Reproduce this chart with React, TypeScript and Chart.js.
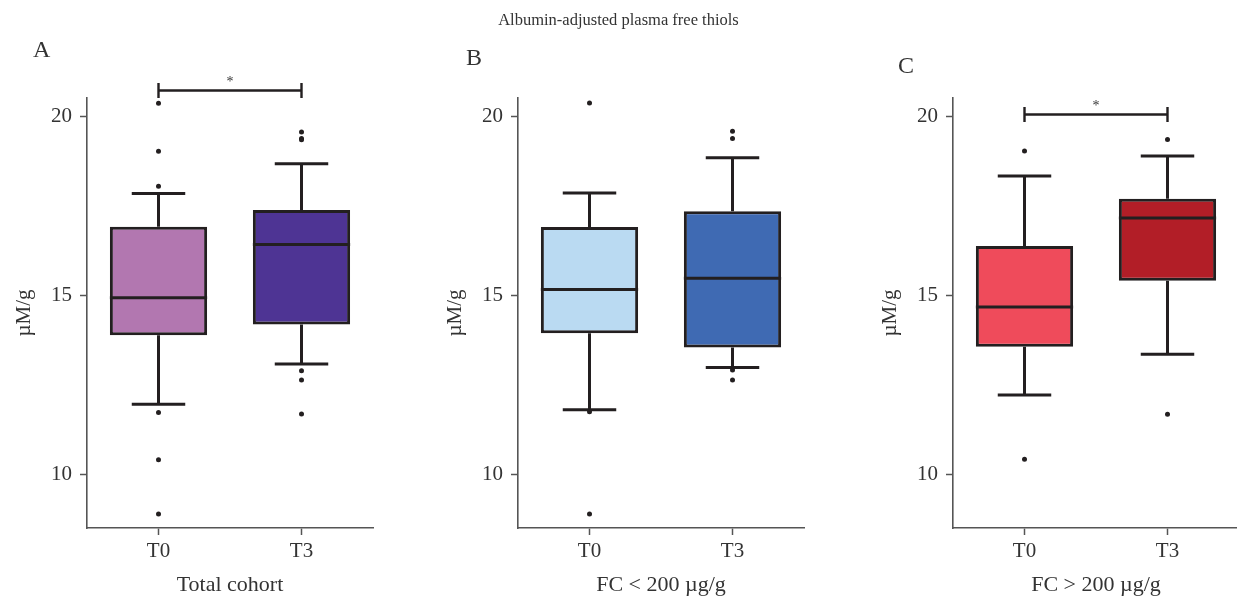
import React, { useEffect, useRef } from 'react';
import { Chart, registerables } from 'chart.js';

Chart.register(...registerables);

// ---------- data ----------
const categories = ['T0', 'T3'];
const yTicks = [10, 15, 20];

// Panel A – Total cohort
const totalMin = [11.96, 13.09];
const totalQ1 = [13.89, 14.19];
const totalMedian = [14.94, 16.43];
const totalQ3 = [16.93, 17.4];
const totalMax = [17.86, 18.69];
const totalOutliersT0 = [20.38, 19.04, 18.06, 11.73, 10.41, 8.89];
const totalOutliersT3 = [19.58, 19.4, 19.36, 12.9, 12.64, 11.69];

// Panel B – FC < 200 µg/g
const lowMin = [11.81, 12.99];
const lowQ1 = [13.95, 13.55];
const lowMedian = [15.17, 15.49];
const lowQ3 = [16.92, 17.36];
const lowMax = [17.87, 18.86];
const lowOutliersT0 = [20.39, 11.75, 8.89];
const lowOutliersT3 = [19.6, 19.4, 12.92, 12.64];

// Panel C – FC > 200 µg/g
const highMin = [12.22, 13.36];
const highQ1 = [13.57, 15.42];
const highMedian = [14.68, 17.17];
const highQ3 = [16.39, 17.71];
const highMax = [18.35, 18.91];
const highOutliersT0 = [19.05, 10.42];
const highOutliersT3 = [19.37, 11.68];

// significance brackets (value on y scale)
const totalBracketY = 20.74;
const highBracketY = 20.07;

// ---------- styles ----------
const INK = '#231f20';
const TEXT = '#333333';
const AXIS = '#555555';
const FONT = "'Liberation Serif', 'Times New Roman', serif";

type PanelDef = {
  letter: string;
  xTitle: string;
  colors: string[];
  min: number[];
  q1: number[];
  median: number[];
  q3: number[];
  max: number[];
  outliers: number[][];
  bracketY: number | null;
  canvasLeft: number;
  letterPos: { left: number; top: number };
};

const panels: PanelDef[] = [
  {
    letter: 'A',
    xTitle: 'Total cohort',
    colors: ['#b277b0', '#4e3494'],
    min: totalMin,
    q1: totalQ1,
    median: totalMedian,
    q3: totalQ3,
    max: totalMax,
    outliers: [totalOutliersT0, totalOutliersT3],
    bracketY: totalBracketY,
    canvasLeft: 0,
    letterPos: { left: 33, top: 37 },
  },
  {
    letter: 'B',
    xTitle: 'FC < 200 µg/g',
    colors: ['#badaf2', '#3f6ab3'],
    min: lowMin,
    q1: lowQ1,
    median: lowMedian,
    q3: lowQ3,
    max: lowMax,
    outliers: [lowOutliersT0, lowOutliersT3],
    bracketY: null,
    canvasLeft: 431,
    letterPos: { left: 466, top: 45 },
  },
  {
    letter: 'C',
    xTitle: 'FC > 200 µg/g',
    colors: ['#ef4b5b', '#b21e27'],
    min: highMin,
    q1: highQ1,
    median: highMedian,
    q3: highQ3,
    max: highMax,
    outliers: [highOutliersT0, highOutliersT3],
    bracketY: highBracketY,
    canvasLeft: 866,
    letterPos: { left: 898, top: 53 },
  },
];

const CANVAS_W = 380;
const CANVAS_H = 602;

function Panel({ p }: { p: PanelDef }) {
  const ref = useRef<HTMLCanvasElement>(null);

  useEffect(() => {
    if (!ref.current) return;
    const lw = 3;
    const capRatio = 0.55;

    const boxPlugin = {
      id: 'boxWhisker',
      beforeDatasetsDraw(chart: any) {
        const { ctx } = chart;
        const x = chart.scales.x;
        const y = chart.scales.y;
        const bars = chart.getDatasetMeta(0).data;
        ctx.save();
        ctx.strokeStyle = INK;
        ctx.lineWidth = lw;
        ctx.lineCap = 'butt';
        categories.forEach((_, i) => {
          const cx = x.getPixelForValue(i);
          const half = (bars[i].width / 2) * capRatio;
          const yMax = y.getPixelForValue(p.max[i]);
          const yMin = y.getPixelForValue(p.min[i]);
          ctx.beginPath();
          ctx.moveTo(cx, y.getPixelForValue(p.q3[i]));
          ctx.lineTo(cx, yMax);
          ctx.moveTo(cx, y.getPixelForValue(p.q1[i]));
          ctx.lineTo(cx, yMin);
          ctx.moveTo(cx - half, yMax);
          ctx.lineTo(cx + half, yMax);
          ctx.moveTo(cx - half, yMin);
          ctx.lineTo(cx + half, yMin);
          ctx.stroke();
        });
        ctx.restore();
      },
      afterDatasetsDraw(chart: any) {
        const { ctx } = chart;
        const y = chart.scales.y;
        const bars = chart.getDatasetMeta(0).data;
        ctx.save();
        ctx.strokeStyle = INK;
        ctx.lineWidth = lw;
        categories.forEach((_, i) => {
          const b = bars[i];
          const ym = y.getPixelForValue(p.median[i]);
          ctx.beginPath();
          ctx.moveTo(b.x - b.width / 2, ym);
          ctx.lineTo(b.x + b.width / 2, ym);
          ctx.stroke();
        });
        ctx.restore();
      },
      afterDraw(chart: any) {
        if (p.bracketY === null) return;
        const { ctx } = chart;
        const x = chart.scales.x;
        const y = chart.scales.y;
        const yb = y.getPixelForValue(p.bracketY);
        const x0 = x.getPixelForValue(0);
        const x1 = x.getPixelForValue(1);
        const t = 7.5;
        ctx.save();
        ctx.strokeStyle = INK;
        ctx.lineWidth = 2.4;
        ctx.beginPath();
        ctx.moveTo(x0, yb);
        ctx.lineTo(x1, yb);
        ctx.moveTo(x0, yb - t);
        ctx.lineTo(x0, yb + t);
        ctx.moveTo(x1, yb - t);
        ctx.lineTo(x1, yb + t);
        ctx.stroke();
        ctx.fillStyle = TEXT;
        ctx.font = `14px ${FONT}`;
        ctx.textAlign = 'center';
        ctx.textBaseline = 'middle';
        ctx.fillText('*', (x0 + x1) / 2, yb - 8);
        ctx.restore();
      },
    };

    const outlierData = p.outliers.flatMap((arr, i) => arr.map((v) => ({ x: i, y: v })));

    const chart = new Chart(ref.current, {
      type: 'bar',
      data: {
        datasets: [
          {
            type: 'bar',
            data: categories.map((_, i) => ({ x: i, y: [p.q1[i], p.q3[i]] })) as any,
            backgroundColor: p.colors,
            borderColor: INK,
            borderWidth: lw,
            borderSkipped: false,
            categoryPercentage: 1,
            barPercentage: 0.68,
          } as any,
          {
            type: 'scatter',
            data: outlierData,
            backgroundColor: INK,
            borderWidth: 0,
            pointRadius: 2.5,
            pointHoverRadius: 2.5,
          } as any,
        ],
      },
      options: {
        animation: false,
        responsive: false,
        maintainAspectRatio: false,
        events: [],
        layout: { padding: { top: 98, right: 7, bottom: 0, left: 0 } },
        plugins: {
          legend: { display: false },
          tooltip: { enabled: false },
          title: { display: false },
        },
        scales: {
          x: {
            type: 'linear',
            min: -0.5,
            max: 1.5,
            offset: false,
            afterBuildTicks: (scale: any) => {
              scale.ticks = categories.map((_, i) => ({ value: i }));
            },
            afterFit: (scale: any) => {
              scale.height = 74;
            },
            ticks: {
              autoSkip: false,
              maxRotation: 0,
              padding: 4,
              color: TEXT,
              font: { family: FONT, size: 21 },
              callback: (v: any) => categories[v] ?? '',
            },
            grid: {
              display: true,
              drawOnChartArea: false,
              drawTicks: true,
              tickLength: 7,
              tickWidth: 1.5,
              color: AXIS,
              offset: false,
            },
            border: { display: true, color: AXIS, width: 1.6 },
            title: {
              display: true,
              text: p.xTitle,
              color: TEXT,
              font: { family: FONT, size: 22 },
              padding: { top: 0, bottom: 4 },
            },
          },
          y: {
            type: 'linear',
            min: 8.5,
            max: 20.53,
            afterBuildTicks: (scale: any) => {
              scale.ticks = yTicks.map((v) => ({ value: v }));
            },
            afterFit: (scale: any) => {
              scale.width = 87;
            },
            ticks: {
              padding: 8,
              color: TEXT,
              font: { family: FONT, size: 21 },
              callback: (v: any) => String(v),
            },
            grid: {
              display: true,
              drawOnChartArea: false,
              drawTicks: true,
              tickLength: 7,
              tickWidth: 1.5,
              color: AXIS,
            },
            border: { display: true, color: AXIS, width: 1.6 },
            title: {
              display: true,
              text: 'µM/g',
              color: TEXT,
              font: { family: FONT, size: 21 },
              padding: { top: 12, bottom: 0 },
            },
          },
        },
      } as any,
      plugins: [boxPlugin],
    });

    return () => chart.destroy();
  }, [p]);

  return (
    <canvas
      ref={ref}
      width={CANVAS_W}
      height={CANVAS_H}
      style={{ position: 'absolute', left: p.canvasLeft, top: 0, width: CANVAS_W, height: CANVAS_H }}
    />
  );
}

export default function App() {
  return (
    <div
      style={{
        position: 'absolute',
        left: 0,
        top: 0,
        width: 1237,
        height: 602,
        overflow: 'hidden',
        background: '#ffffff',
        fontFamily: FONT,
        color: TEXT,
      }}
    >
      {panels.map((p) => (
        <Panel key={p.letter} p={p} />
      ))}
      <div
        style={{
          position: 'absolute',
          left: 0,
          width: 1237,
          top: 10,
          textAlign: 'center',
          fontSize: 16.5,
          lineHeight: '20px',
        }}
      >
        Albumin-adjusted plasma free thiols
      </div>
      {panels.map((p) => (
        <div
          key={'l' + p.letter}
          style={{
            position: 'absolute',
            left: p.letterPos.left,
            top: p.letterPos.top,
            fontSize: 24,
            lineHeight: '24px',
          }}
        >
          {p.letter}
        </div>
      ))}
    </div>
  );
}
